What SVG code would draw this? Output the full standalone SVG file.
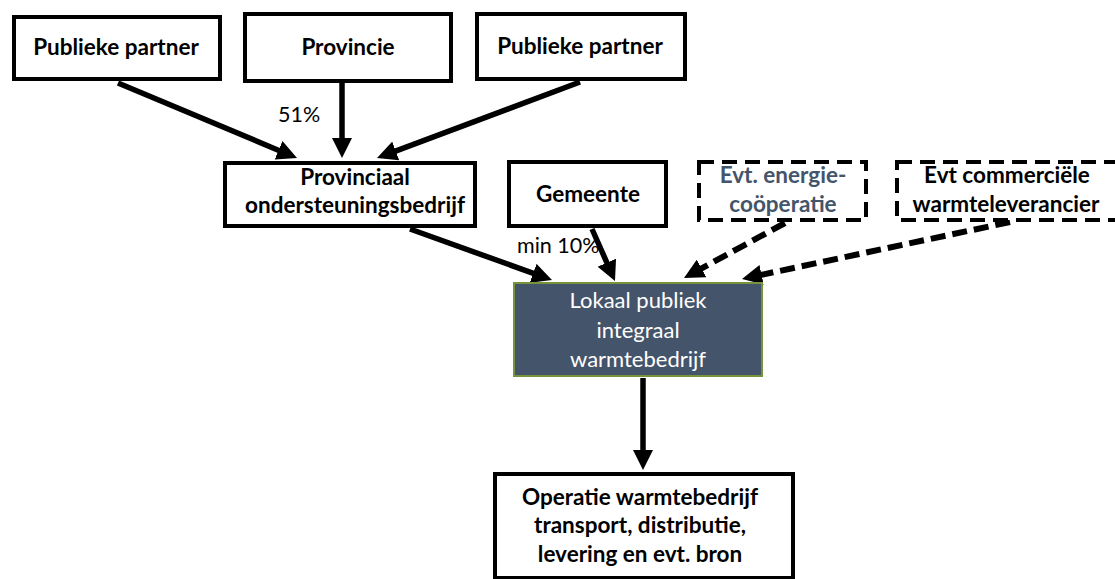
<svg xmlns="http://www.w3.org/2000/svg" width="1115" height="579" viewBox="0 0 1115 579">
<style>
  .box { fill: #ffffff; stroke: #000000; stroke-width: 4; }
  .dbox { fill: #ffffff; stroke: #000000; stroke-width: 4; stroke-dasharray: 15 8; }
  .dark { fill: #44546A; stroke: #77933C; stroke-width: 2; }
  .t { font-family: Lato, "Liberation Sans", sans-serif; font-size: 22.5px; font-weight: bold; fill: #000000; text-anchor: middle; }
  .tb { fill: #44546A; }
  .tw { font-family: Lato, "Liberation Sans", sans-serif; font-size: 22px; fill: #ffffff; text-anchor: middle; }
  .lbl { font-family: Lato, "Liberation Sans", sans-serif; font-size: 21.5px; fill: #000000; }
  .c { stroke: #000000; stroke-width: 5.5; fill: none; }
  .cd { stroke: #000000; stroke-width: 6; fill: none; stroke-dasharray: 15 7; }
</style>
<defs>
  <marker id="ah" markerUnits="userSpaceOnUse" markerWidth="20" markerHeight="20" refX="1" refY="10" orient="auto" viewBox="0 0 20 20">
    <path d="M0,0 L20,10 L0,20 z" fill="#000000"/>
  </marker>
</defs>
<rect width="1115" height="579" fill="#ffffff"/>

<g id="connectors">
  <line class="c" x1="118" y1="83" x2="279.5" y2="150.7" marker-end="url(#ah)"/>
  <line class="c" x1="342" y1="83" x2="342" y2="139" marker-end="url(#ah)"/>
  <line class="c" x1="580" y1="82" x2="394.8" y2="151.3" marker-end="url(#ah)"/>
  <line class="c" x1="410" y1="229" x2="534.1" y2="273.6" marker-end="url(#ah)"/>
  <line class="c" x1="592" y1="229" x2="607.3" y2="263.6" marker-end="url(#ah)"/>
  <line class="cd" x1="785" y1="223" x2="700.7" y2="268.9" marker-end="url(#ah)"/>
  <line class="cd" x1="1010" y1="222" x2="760.6" y2="275" marker-end="url(#ah)"/>
  <line class="c" x1="643" y1="378" x2="643" y2="451" marker-end="url(#ah)"/>
</g>

<g id="node-publieke-partner-1">
  <rect class="box" x="14" y="17" width="206" height="62"/>
  <text class="t" x="116" y="55">Publieke partner</text>
</g>
<g id="node-provincie">
  <rect class="box" x="245" y="14" width="206" height="67"/>
  <text class="t" x="348" y="55">Provincie</text>
</g>
<g id="node-publieke-partner-2">
  <rect class="box" x="477" y="14" width="208" height="65"/>
  <text class="t" x="580" y="54">Publieke partner</text>
</g>
<g id="node-provinciaal">
  <rect class="box" x="225" y="163" width="250" height="63"/>
  <text class="t" x="355" y="185">Provinciaal</text>
  <text class="t" x="355" y="213">ondersteuningsbedrijf</text>
</g>
<g id="node-gemeente">
  <rect class="box" x="509" y="162" width="157" height="64"/>
  <text class="t" x="588" y="202">Gemeente</text>
</g>
<g id="node-cooperatie">
  <rect class="dbox" x="699" y="162" width="167" height="58"/>
  <text class="t tb" x="783" y="183">Evt. energie-</text>
  <text class="t tb" x="783" y="212">coöperatie</text>
</g>
<g id="node-commercieel">
  <rect class="dbox" x="897" y="162" width="222" height="58"/>
  <text class="t" x="1007" y="183">Evt commerciële</text>
  <text class="t" x="1006" y="212">warmteleverancier</text>
</g>
<g id="node-lokaal">
  <rect class="dark" x="514" y="283" width="248" height="93"/>
  <text class="tw" x="638" y="308">Lokaal publiek</text>
  <text class="tw" x="638" y="338">integraal</text>
  <text class="tw" x="638" y="367">warmtebedrijf</text>
</g>
<g id="node-operatie">
  <rect class="box" x="495" y="474" width="298" height="104"/>
  <text class="t" x="640" y="505">Operatie warmtebedrijf</text>
  <text class="t" x="640" y="533">transport, distributie,</text>
  <text class="t" x="640" y="562">levering en evt. bron</text>
</g>
<g id="labels">
  <text class="lbl" x="278" y="122">51%</text>
  <text class="lbl" x="517" y="253">min 10%</text>
</g>
</svg>
